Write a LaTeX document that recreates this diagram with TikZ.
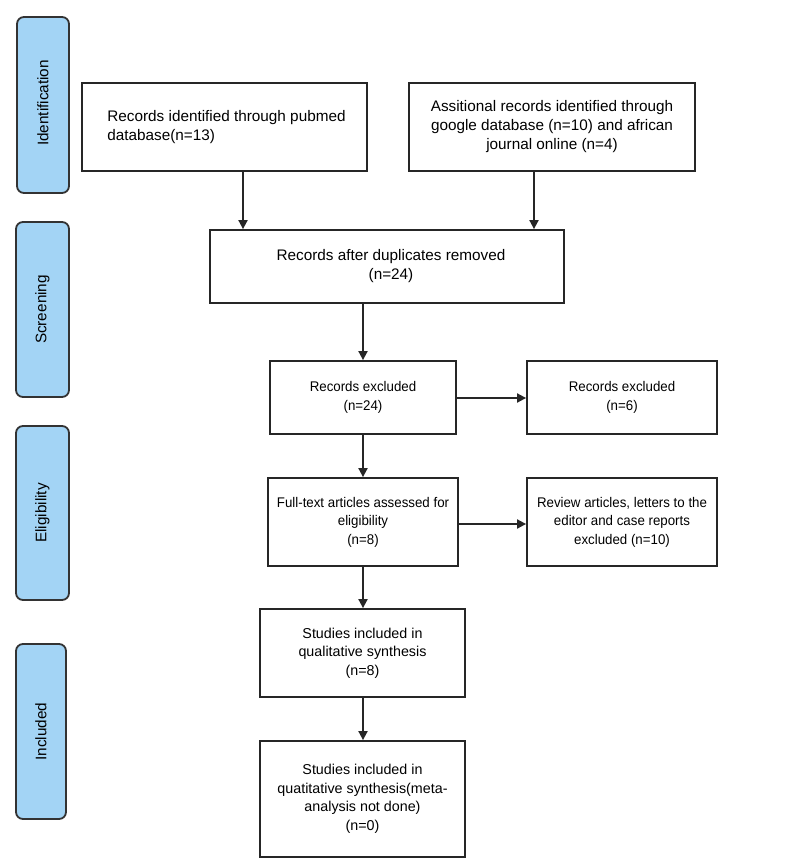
\documentclass[tikz,border=0pt]{standalone}
\usepackage{fontspec}
\setmainfont{Liberation Sans}
\usetikzlibrary{arrows.meta}
\definecolor{stageblue}{RGB}{163,212,245}
\newcommand{\midtext}[1]{\scalebox{0.95}[1]{\begin{tabular}{@{}c@{}}#1\end{tabular}}}
\begin{document}
\begin{tikzpicture}[x=1pt,y=-1pt,
  box/.style={draw=black!85, line width=1.8pt, fill=white, inner sep=2pt, align=center},
  topfont/.style={font=\fontsize{15.3}{19}\selectfont},
  midfont/.style={font=\fontsize{14}{18.7}\selectfont},
  lowfont/.style={font=\fontsize{14.3}{18.5}\selectfont},
  stage/.style={draw=black!80, line width=1.8pt, fill=stageblue, rounded corners=7pt,
    inner sep=0pt},
  stagetext/.style={rotate=90, font=\fontsize{15.3}{18}\selectfont},
  arr/.style={draw=black!85, line width=1.8pt, -{Triangle[length=9pt,width=9pt]}}]
\useasboundingbox (0,0) rectangle (804,864);
% stage bars
\node[stage, minimum width=52pt, minimum height=176pt] (sid) at (43,105) {};
\node[stagetext] (tid) at ([yshift=2pt]sid.center) {Identification};
\node[stage, minimum width=53pt, minimum height=175pt] (sscr) at (42.5,309.5) {};
\node[stagetext] (tscr) at (sscr.center) {Screening};
\node[stage, minimum width=53pt, minimum height=174pt] (seli) at (42.5,513) {};
\node[stagetext] (teli) at (seli.center) {Eligibility};
\node[stage, minimum width=50pt, minimum height=175pt] (sinc) at (41,731.5) {};
\node[stagetext] (tinc) at (sinc.center) {Included};
% boxes
\node[box, topfont, minimum width=285pt, minimum height=88pt] (pub) at (224.5,127)
  {\hspace*{4pt}\raisebox{4pt}{\begin{tabular}{@{}l@{}}Records identified through pubmed\\database(n=13)\end{tabular}}};
\node[box, topfont, minimum width=286pt, minimum height=88pt] (goog) at (552,127)
  {\raisebox{3.5pt}{\begin{tabular}{@{}c@{}}Assitional records identified through\\google database (n=10) and african\\journal online (n=4)\end{tabular}}};
\node[box, topfont, minimum width=354pt, minimum height=73pt] (dup) at (387,266.5)
  {\hspace*{8pt}\raisebox{4pt}{\begin{tabular}{@{}c@{}}Records after duplicates removed\\(n=24)\end{tabular}}};
\node[box, midfont, minimum width=186pt, minimum height=73pt] (exc) at (363,397.5)
  {\midtext{Records excluded\\(n=24)}};
\node[box, midfont, minimum width=190pt, minimum height=73pt] (exc6) at (622,397.5)
  {\midtext{Records excluded\\(n=6)}};
\node[box, midfont, minimum width=190pt, minimum height=88pt] (full) at (363,522)
  {\midtext{Full-text articles assessed for\\eligibility\\(n=8)}};
\node[box, midfont, minimum width=190pt, minimum height=88pt] (rev) at (622,522)
  {\midtext{Review articles, letters to the\\editor and case reports\\excluded (n=10)}};
\node[box, lowfont, minimum width=205pt, minimum height=88pt] (qual) at (362.5,653)
  {Studies included in\\qualitative synthesis\\(n=8)};
\node[box, lowfont, minimum width=205pt, minimum height=116pt] (quant) at (362.5,799)
  {Studies included in\\quatitative synthesis(meta-\\analysis not done)\\(n=0)};
% connectors
\draw[arr] ([xshift=18.5pt]pub.south) -- ([xshift=18.5pt]pub.south |- dup.north);
\draw[arr] ([xshift=-18pt]goog.south) -- ([xshift=-18pt]goog.south |- dup.north);
\draw[arr] (dup.south -| exc.north) -- (exc.north);
\draw[arr] (exc.south) -- (full.north);
\draw[arr] ([yshift=-0.5pt]exc.east) -- ([yshift=-0.5pt]exc6.west);
\draw[arr] ([yshift=-2pt]full.east) -- ([yshift=-2pt]full.east -| rev.west);
\draw[arr] (full.south) -- (full.south |- qual.north);
\draw[arr] ([xshift=0.5pt]qual.south) -- ([xshift=0.5pt]quant.north);
\end{tikzpicture}
\end{document}
